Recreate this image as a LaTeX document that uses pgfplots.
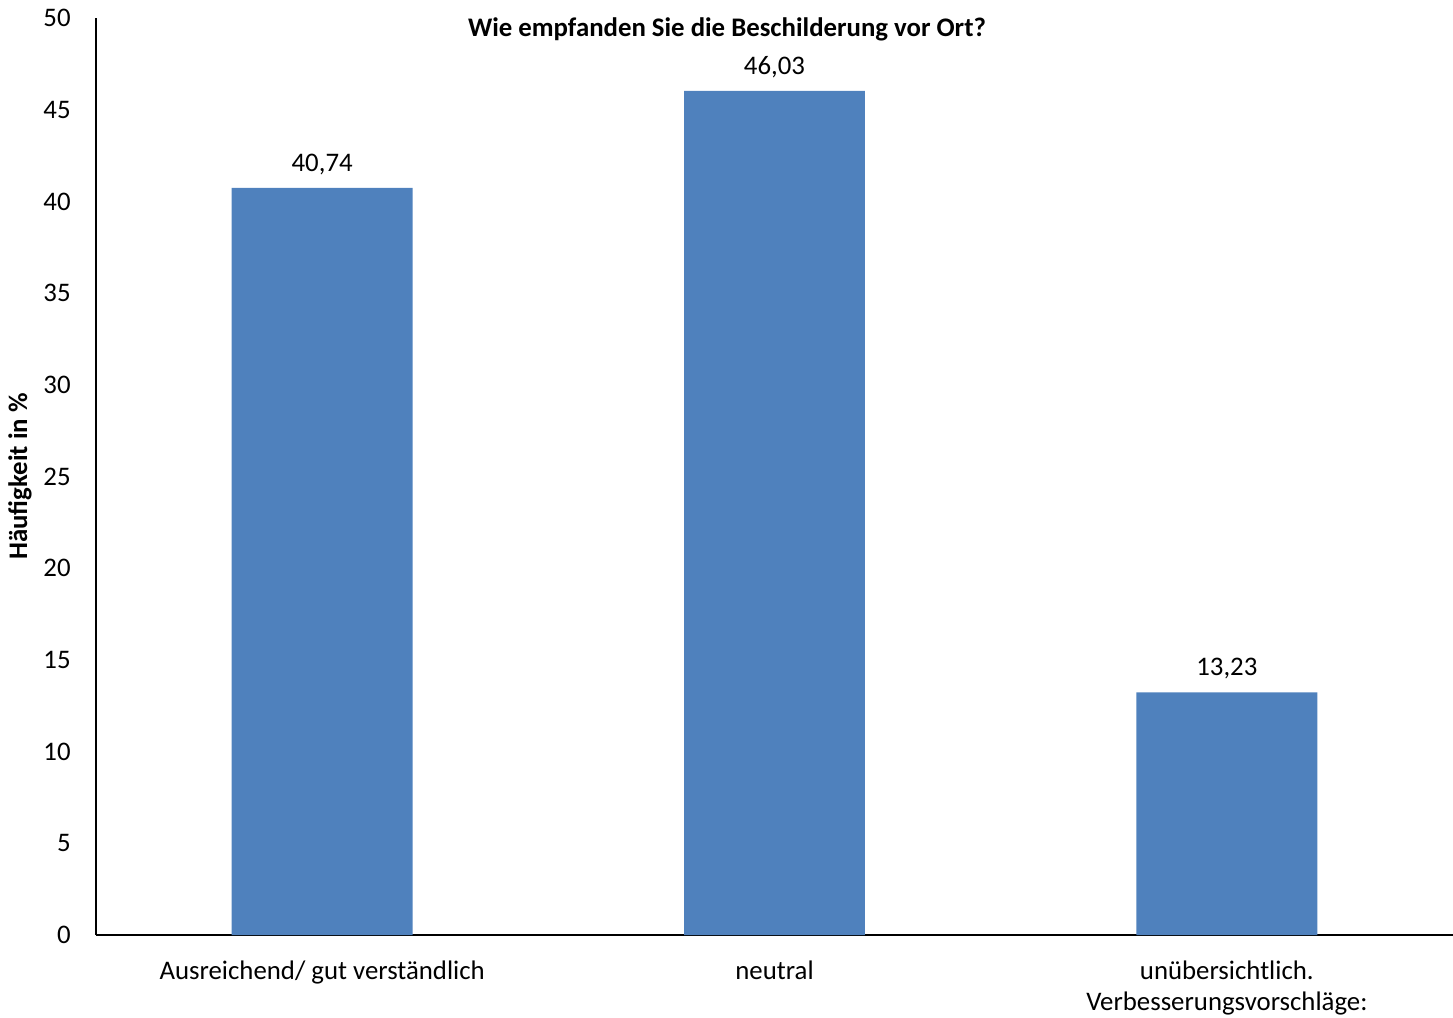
\documentclass[border=0pt]{standalone}
\usepackage{fontspec}
\setmainfont{Carlito}
\usepackage{pgfplots}
\pgfplotsset{compat=1.18}
\definecolor{barblue}{HTML}{4F81BD}
\begin{document}
\fontsize{13.4}{16}\selectfont
\begin{tikzpicture}
\begin{axis}[
  name=ax,
  scale only axis,
  width=678.5pt, height=458.5pt,
  xmin=-0.5, xmax=2.5,
  ymin=0, ymax=50,
  ytick={0,5,...,50},
  xtick={0,1,2},
  xticklabels={Ausreichend/ gut verständlich, neutral, {unübersichtlich.\\Verbesserungsvorschläge:}},
  xticklabel style={align=center, font=\fontsize{13.4}{15.5}\selectfont, yshift=-8.5pt},
  yticklabel style={font=\fontsize{13.4}{16}\selectfont, xshift=-8pt},
  /pgf/number format/assume math mode=true,
  major tick length=0pt,
  axis x line*=bottom,
  axis y line*=left,
  axis line style={black, line width=0.9pt},
  ylabel={\textbf{Häufigkeit in \%}},
  ylabel style={font=\fontsize{13.4}{16}\selectfont},
  every axis y label/.style={at={(rel axis cs:0,0.5)}, anchor=center, xshift=-38pt, rotate=90},
  title={\textbf{Wie empfanden Sie die Beschilderung vor Ort?}},
  title style={at={(rel axis cs:0.465,1)}, anchor=north, yshift=-1pt, font=\fontsize{13.4}{16}\selectfont},
  nodes near coords,
  nodes near coords style={font=\fontsize{13.4}{16}\selectfont, yshift=2pt},
  point meta=explicit symbolic,
  clip=false,
]
\addplot[ybar, bar width=0.4, fill=barblue, draw=none] coordinates {
  (0,40.74) [40,74]
  (1,46.03) [46,03]
  (2,13.23) [13,23]
};
\coordinate (bl) at (rel axis cs:0,0);
\coordinate (tr) at (rel axis cs:1,1);
\end{axis}
\pgfresetboundingbox
\path ([xshift=-48pt,yshift=-41pt]bl) rectangle ([yshift=9pt]tr);
\end{tikzpicture}
\end{document}
